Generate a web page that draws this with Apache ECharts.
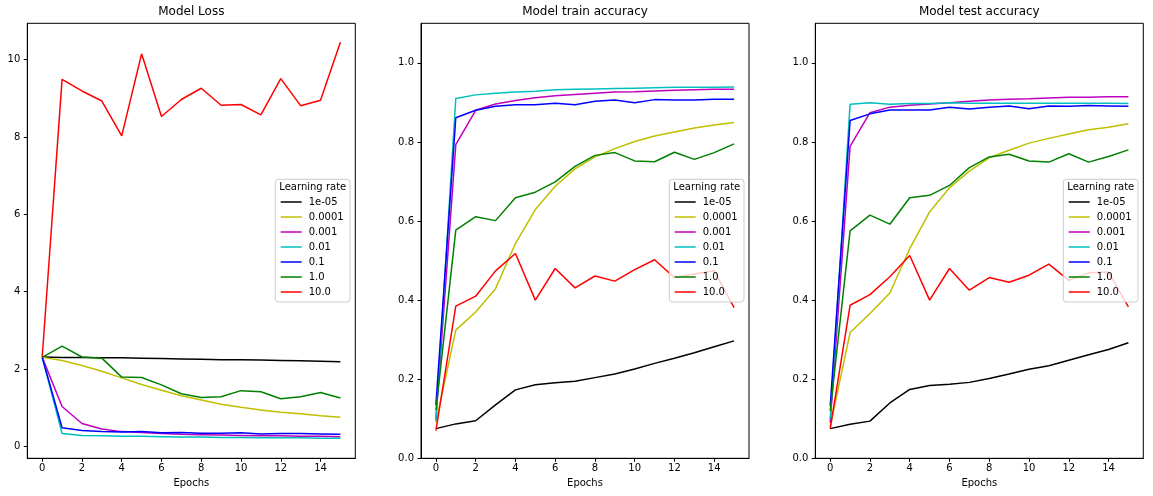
<!DOCTYPE html>
<html>
<head>
<meta charset="utf-8">
<script src="https://cdn.jsdelivr.net/npm/echarts@6/dist/echarts.min.js"></script>
<style>
html, body { margin: 0; padding: 0; background: #fff; }
#chart { width: 1153px; height: 496px; }
</style>
</head>
<body>
<div id="chart"></div>
<script>
// data

const epochs = [0, 1, 2, 3, 4, 5, 6, 7, 8, 9, 10, 11, 12, 13, 14, 15];
const rates = ["1e-05", "0.0001", "0.001", "0.01", "0.1", "1.0", "10.0"];
const rateColors = ["#000000", "#bfbf00", "#bf00bf", "#00bfbf", "#0000ff", "#008000", "#ff0000"];

const panelTitles = ["Model Loss", "Model train accuracy", "Model test accuracy"];
const xTicks = [0, 2, 4, 6, 8, 10, 12, 14];
const lossTicks = [0, 2, 4, 6, 8, 10];
const accTicks = [0, 0.2, 0.4, 0.6, 0.8, 1.0];

const loss_1e5 = [2.31, 2.30, 2.30, 2.29, 2.29, 2.28, 2.27, 2.26, 2.25, 2.24, 2.24, 2.23, 2.22, 2.21, 2.20, 2.19];
const loss_1e4 = [2.30, 2.22, 2.09, 1.94, 1.77, 1.60, 1.45, 1.31, 1.20, 1.09, 1.01, 0.94, 0.88, 0.84, 0.79, 0.75];
const loss_1e3 = [2.30, 1.03, 0.59, 0.45, 0.38, 0.36, 0.33, 0.31, 0.30, 0.29, 0.28, 0.27, 0.27, 0.26, 0.26, 0.25];
const loss_1e2 = [2.30, 0.33, 0.28, 0.27, 0.26, 0.26, 0.25, 0.24, 0.24, 0.23, 0.23, 0.22, 0.22, 0.22, 0.21, 0.21];
const loss_1e1 = [2.30, 0.48, 0.41, 0.38, 0.37, 0.38, 0.35, 0.36, 0.34, 0.34, 0.35, 0.32, 0.33, 0.33, 0.32, 0.31];
const loss_1 = [2.30, 2.59, 2.31, 2.28, 1.79, 1.78, 1.59, 1.36, 1.26, 1.28, 1.44, 1.41, 1.23, 1.28, 1.39, 1.25];
const loss_10 = [2.31, 9.49, 9.19, 8.93, 8.03, 10.15, 8.53, 8.97, 9.26, 8.82, 8.84, 8.57, 9.51, 8.81, 8.95, 10.45];

const train_1e5 = [0.075, 0.087, 0.095, 0.135, 0.173, 0.186, 0.191, 0.195, 0.204, 0.213, 0.226, 0.240, 0.253, 0.267, 0.282, 0.297];
const train_1e4 = [0.090, 0.324, 0.370, 0.429, 0.543, 0.629, 0.688, 0.732, 0.762, 0.783, 0.801, 0.815, 0.825, 0.835, 0.843, 0.849];
const train_1e3 = [0.100, 0.793, 0.880, 0.896, 0.905, 0.912, 0.917, 0.920, 0.923, 0.926, 0.927, 0.929, 0.931, 0.932, 0.933, 0.933];
const train_1e2 = [0.095, 0.910, 0.919, 0.923, 0.926, 0.928, 0.932, 0.933, 0.934, 0.935, 0.936, 0.937, 0.938, 0.938, 0.938, 0.939];
const train_1e1 = [0.135, 0.861, 0.880, 0.890, 0.894, 0.894, 0.898, 0.894, 0.903, 0.906, 0.899, 0.907, 0.906, 0.906, 0.908, 0.908];
const train_1 = [0.122, 0.577, 0.611, 0.601, 0.659, 0.673, 0.699, 0.738, 0.766, 0.773, 0.752, 0.750, 0.774, 0.756, 0.773, 0.795];
const train_10 = [0.070, 0.385, 0.410, 0.474, 0.518, 0.400, 0.480, 0.431, 0.461, 0.448, 0.477, 0.502, 0.457, 0.466, 0.474, 0.381];

const test_1e5 = [0.075, 0.086, 0.094, 0.140, 0.174, 0.184, 0.187, 0.192, 0.202, 0.213, 0.225, 0.234, 0.248, 0.262, 0.275, 0.292];
const test_1e4 = [0.080, 0.318, 0.366, 0.418, 0.530, 0.623, 0.684, 0.726, 0.760, 0.779, 0.797, 0.809, 0.820, 0.831, 0.837, 0.846];
const test_1e3 = [0.090, 0.789, 0.874, 0.888, 0.893, 0.896, 0.899, 0.903, 0.906, 0.908, 0.909, 0.911, 0.913, 0.913, 0.914, 0.914];
const test_1e2 = [0.100, 0.895, 0.899, 0.895, 0.897, 0.897, 0.899, 0.898, 0.898, 0.898, 0.898, 0.898, 0.898, 0.898, 0.898, 0.897];
const test_1e1 = [0.132, 0.854, 0.871, 0.881, 0.881, 0.881, 0.888, 0.883, 0.888, 0.891, 0.884, 0.891, 0.890, 0.892, 0.891, 0.890];
const test_1 = [0.120, 0.575, 0.615, 0.592, 0.659, 0.665, 0.690, 0.735, 0.762, 0.769, 0.752, 0.749, 0.770, 0.749, 0.763, 0.780];
const test_10 = [0.075, 0.387, 0.414, 0.459, 0.513, 0.400, 0.480, 0.425, 0.457, 0.445, 0.463, 0.491, 0.450, 0.469, 0.471, 0.383];

const panelData = [
    [loss_1e5, loss_1e4, loss_1e3, loss_1e2, loss_1e1, loss_1, loss_10],
    [train_1e5, train_1e4, train_1e3, train_1e2, train_1e1, train_1, train_10],
    [test_1e5, test_1e4, test_1e3, test_1e2, test_1e1, test_1, test_10]
];

// layout

const FONT = "DejaVu Sans";
const gridLefts = [27.3, 421, 815.3];
const GRID_TOP = 23.3;
const GRID_W = 328;
const GRID_H = 435;
const legendLefts = [275.3, 669.3, 1063.3];
const LEGEND_TOP = 179.3;
const LEGEND_W = 74.7;
const LEGEND_H = 122.7;

const chart = echarts.init(document.getElementById("chart"), null, { "renderer": "canvas" });

function makeXAxis(i)
{
    return {
        "type": "value",
        "gridIndex": i,
        "min": -0.75,
        "max": 15.75,
        "name": "Epochs",
        "nameLocation": "middle",
        "nameGap": 19,
        "nameTextStyle": { "fontFamily": FONT, "fontSize": 10, "color": "#000" },
        "axisLine": { "show": true, "onZero": false, "lineStyle": { "color": "#000", "width": 1 } },
        "axisTick": { "show": true, "length": 3.5, "customValues": xTicks, "lineStyle": { "color": "#000" } },
        "axisLabel": { "customValues": xTicks, "margin": 5, "fontFamily": FONT, "fontSize": 10, "color": "#000" },
        "splitLine": { "show": false }
    };
}

function makeYAxis(i)
{
    const isLoss = i === 0;
    const ticks = isLoss ? lossTicks : accTicks;
    return {
        "type": "value",
        "gridIndex": i,
        "min": isLoss ? -0.31 : 0,
        "max": isLoss ? 10.94 : 1.1,
        "axisLine": { "show": true, "onZero": false, "lineStyle": { "color": "#000", "width": 1 } },
        "axisTick": { "show": true, "length": 3.5, "customValues": ticks, "lineStyle": { "color": "#000" } },
        "axisLabel": {
            "customValues": ticks,
            "margin": 7,
            "fontFamily": FONT,
            "fontSize": 10,
            "color": "#000",
            "formatter": function (v)
            {
                return isLoss ? String(Math.round(v)) : v.toFixed(1);
            }
        },
        "splitLine": { "show": false }
    };
}

const grids = [];
const xAxes = [];
const yAxes = [];
const titles = [];
const legends = [];
const graphics = [];
const series = [];

for (let p = 0; p < 3; p++)
{
    grids.push({
        "left": gridLefts[p],
        "top": GRID_TOP,
        "width": GRID_W,
        "height": GRID_H,
        "show": true,
        "borderColor": "#000",
        "borderWidth": 1,
        "backgroundColor": "transparent"
    });
    xAxes.push(makeXAxis(p));
    yAxes.push(makeYAxis(p));

    titles.push({
        "text": panelTitles[p],
        "left": gridLefts[p] + GRID_W / 2,
        "top": 6,
        "textAlign": "center",
        "padding": 0,
        "textStyle": { "fontFamily": FONT, "fontSize": 12, "fontWeight": "normal", "color": "#000" }
    });

    // legend frame + title drawn by hand, matplotlib style
    graphics.push({
        "type": "rect",
        "z": 3,
        "shape": { "x": legendLefts[p], "y": LEGEND_TOP, "width": LEGEND_W, "height": LEGEND_H, "r": 3 },
        "style": { "fill": "rgba(255,255,255,0.8)", "stroke": "#cccccc", "lineWidth": 1 }
    });
    graphics.push({
        "type": "text",
        "z": 4,
        "x": legendLefts[p] + 4,
        "y": 187.5,
        "style": {
            "text": "Learning rate",
            "font": "10px '" + FONT + "'",
            "fill": "#000",
            "verticalAlign": "middle"
        }
    });

    legends.push({
        "left": legendLefts[p] + 5.4,
        "top": 196,
        "orient": "vertical",
        "padding": 0,
        "itemGap": 3,
        "itemWidth": 21,
        "itemHeight": 1.5,
        "icon": "rect",
        "selectedMode": false,
        "data": rates,
        "textStyle": { "fontFamily": FONT, "fontSize": 10, "color": "#000", "lineHeight": 12, "padding": [0, 0, 0, 2] }
    });

    const rows = panelData[p];
    for (let s = 0; s < rates.length; s++)
    {
        series.push({
            "type": "line",
            "name": rates[s],
            "xAxisIndex": p,
            "yAxisIndex": p,
            "showSymbol": false,
            "symbol": "none",
            "color": rateColors[s],
            "lineStyle": { "width": 1.5, "color": rateColors[s] },
            "data": epochs.map(function (e, k) { return [e, rows[s][k]]; }),
            "z": 2
        });
    }
}

chart.setOption({
    "animation": false,
    "backgroundColor": "#fff",
    "title": titles,
    "grid": grids,
    "xAxis": xAxes,
    "yAxis": yAxes,
    "legend": legends,
    "graphic": graphics,
    "series": series
});
</script>
</body>
</html>
